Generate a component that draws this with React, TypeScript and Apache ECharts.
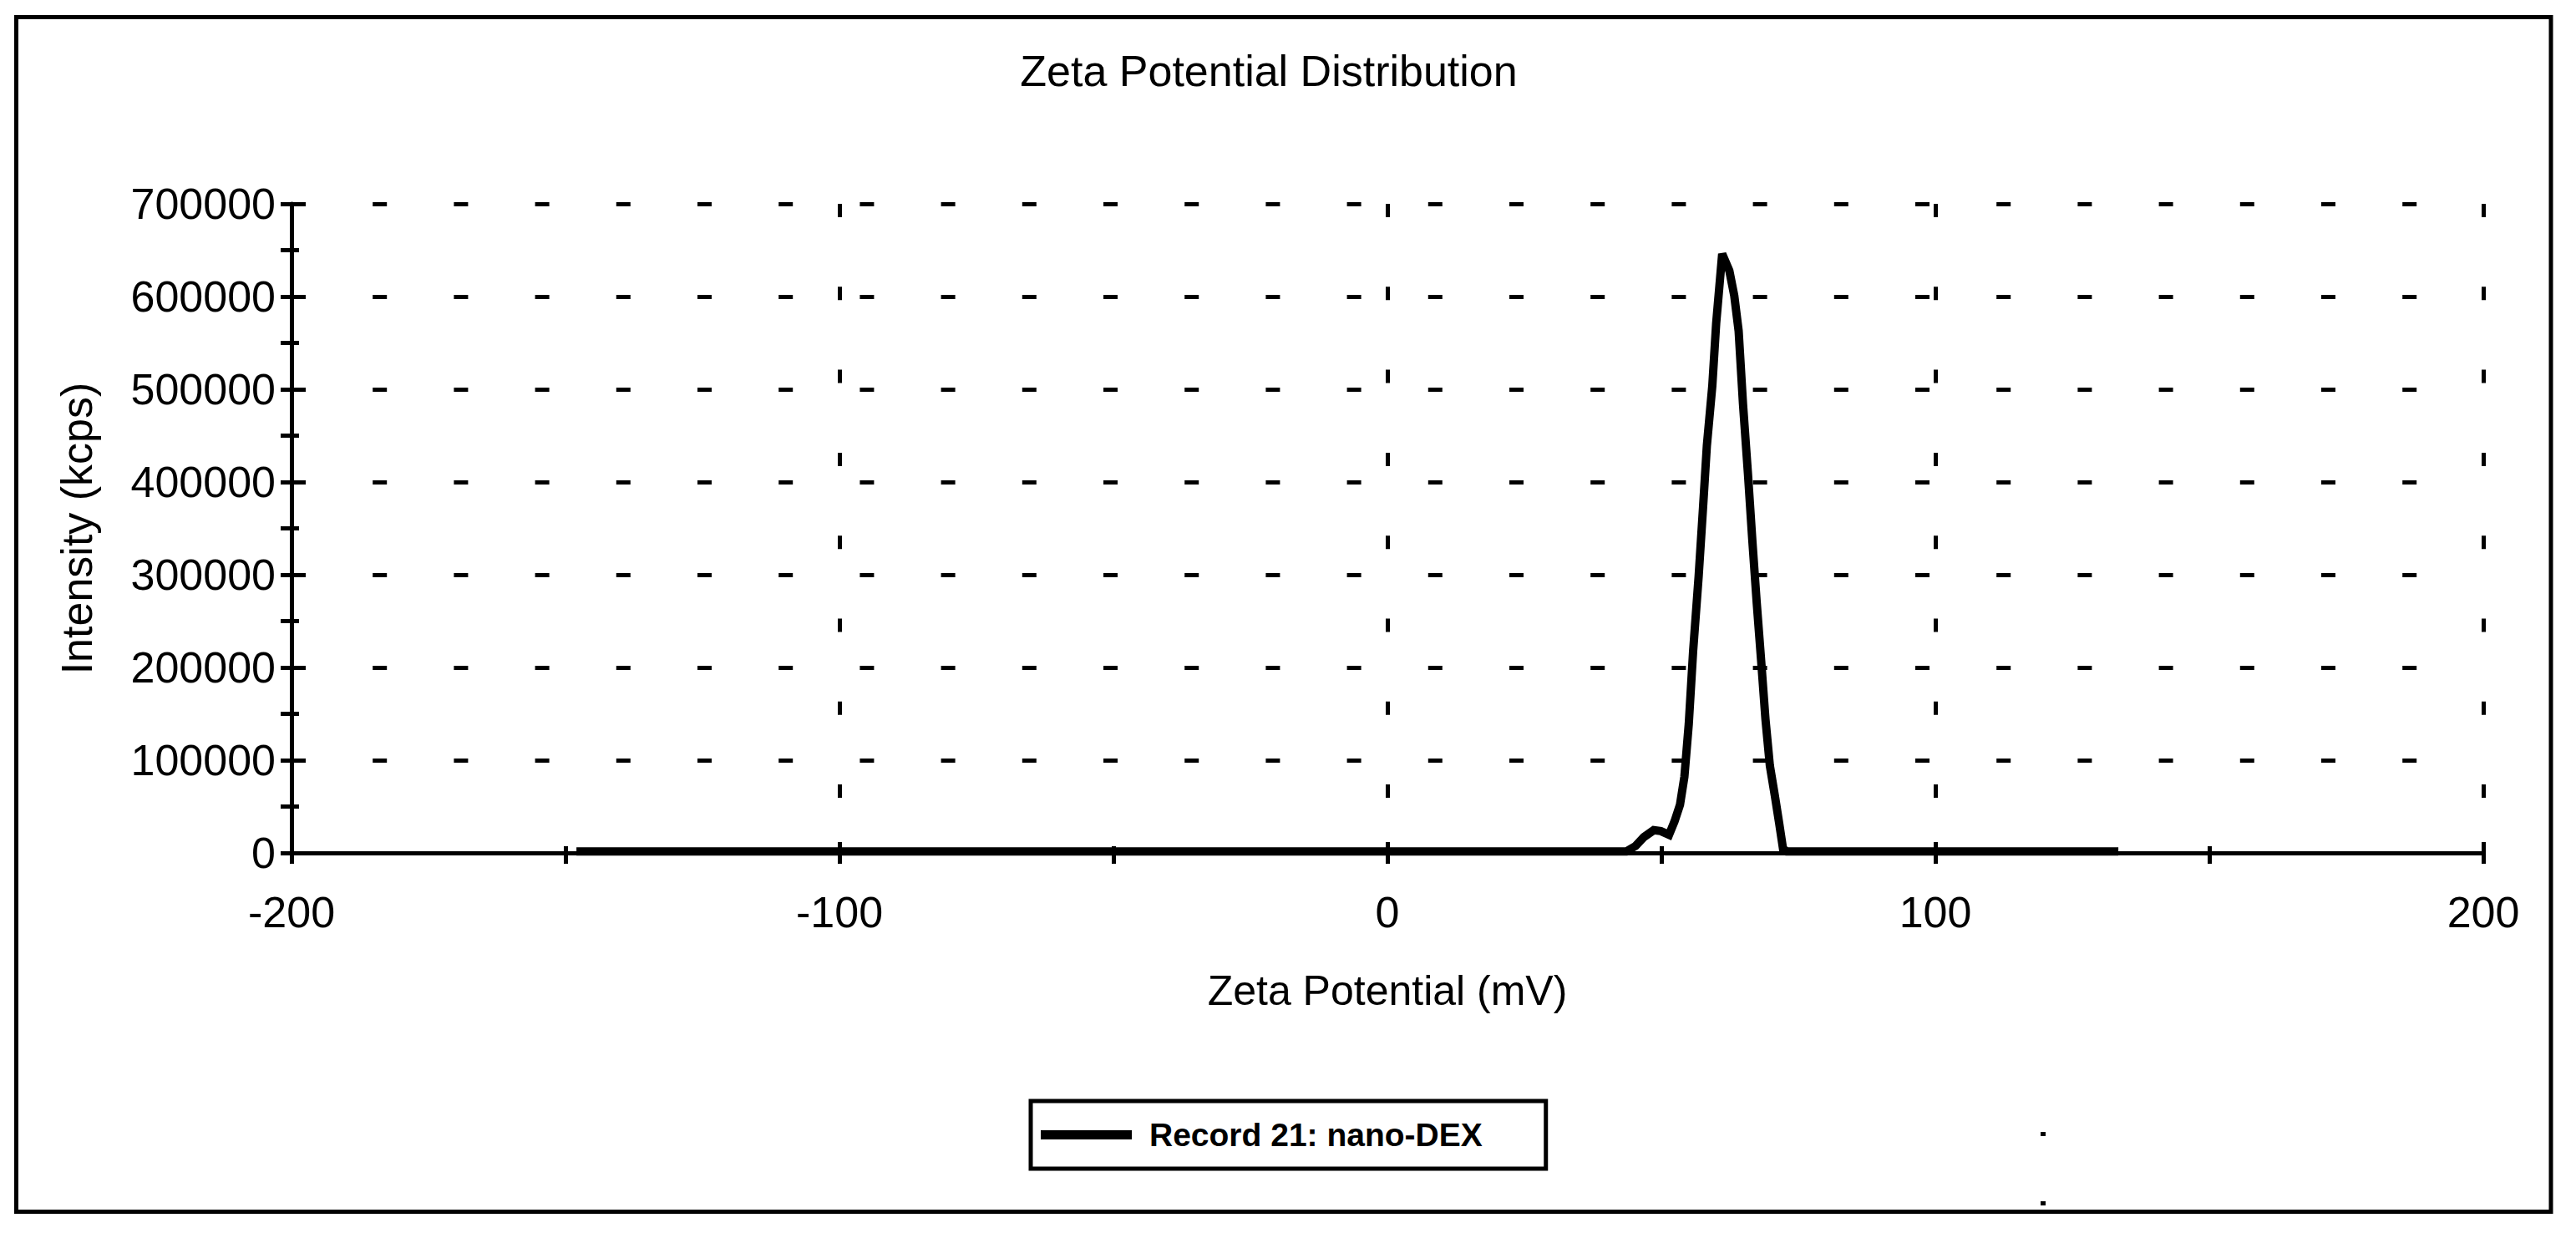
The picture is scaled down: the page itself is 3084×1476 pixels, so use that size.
import React, { useEffect, useRef } from 'react';
import * as echarts from 'echarts';

// Zeta potential distribution
const zetaMv = [
  -148, 43.6, 45.3, 46.8, 48.6, 49.9, 51.4, 52.4, 53.4, 54.2, 55.0, 55.8,
  56.8, 57.6, 58.3, 59.3, 60.0, 61.1, 62.4, 63.3, 64.1, 64.9, 65.8, 66.6,
  67.4, 68.2, 69.0, 69.8, 70.7, 71.5, 72.2, 72.9, 133.4
];
const intensityKcps = [
  1500, 1500, 7500, 17000, 24500, 23500, 19500, 34000, 52000, 82000, 139000, 218000,
  298000, 372000, 439000, 504000, 571000, 646000, 628000, 601000, 563000, 484000, 409000, 337000,
  270000, 208000, 144000, 94000, 62000, 32000, 4600, 1500, 1500
];

const xTickLabels = ['-200', '-100', '0', '100', '200'];
const yTickLabels = ['0', '100000', '200000', '300000', '400000', '500000', '600000', '700000'];

const seriesName = 'Record 21: nano-DEX';
const FONT = "'Liberation Sans', Arial, sans-serif";

const App: React.FC = () => {
  const chartRef = useRef<HTMLDivElement>(null);

  useEffect(() => {
    if (!chartRef.current) return;
    const chart = echarts.init(chartRef.current, undefined, { renderer: 'svg' });

    const tickStyle = { color: '#000', width: 5 };

    const option = {
      animation: false,
      backgroundColor: '#fff',
      title: {
        text: 'Zeta Potential Distribution',
        left: 1519,
        top: 59,
        textAlign: 'center',
        padding: 0,
        textStyle: { fontFamily: FONT, fontSize: 52, fontWeight: 'normal', color: '#000' }
      },
      legend: {
        data: [seriesName],
        left: 1234,
        top: 1318,
        orient: 'horizontal',
        icon: 'rect',
        itemWidth: 109,
        itemHeight: 11,
        padding: [21, 76, 21, 12],
        borderColor: '#000',
        borderWidth: 5,
        backgroundColor: '#fff',
        selectedMode: false,
        textStyle: {
          fontFamily: FONT,
          fontSize: 39,
          fontWeight: 'bold',
          color: '#000',
          padding: [0, 0, 0, 16]
        }
      },
      grid: { left: 349, right: 111, top: 244, bottom: 455, containLabel: false },
      xAxis: [
        {
          type: 'value',
          min: -200,
          max: 200,
          interval: 100,
          name: 'Zeta Potential (mV)',
          nameLocation: 'middle',
          nameGap: 140,
          nameTextStyle: { fontFamily: FONT, fontSize: 50, color: '#000' },
          axisLine: { show: true, onZero: false, lineStyle: { color: '#000', width: 5 } },
          axisTick: { show: true, length: 13, lineStyle: tickStyle },
          minorTick: { show: true, splitNumber: 2, length: 13, lineStyle: tickStyle },
          axisLabel: {
            margin: 45,
            fontFamily: FONT,
            fontSize: 52,
            color: '#000',
            formatter: (v: number) => xTickLabels[Math.round((v + 200) / 100)]
          },
          splitLine: {
            show: true,
            lineStyle: { color: '#000', width: 5, type: [16, 83.3] }
          }
        },
        {
          type: 'value',
          position: 'bottom',
          min: -200,
          max: 200,
          interval: 100,
          axisLine: { show: false, onZero: false },
          axisTick: { show: true, inside: true, length: 13, lineStyle: tickStyle },
          minorTick: { show: true, splitNumber: 2, length: 8, lineStyle: tickStyle },
          axisLabel: { show: false },
          splitLine: { show: false }
        }
      ],
      yAxis: [
        {
          type: 'value',
          min: 0,
          max: 700000,
          interval: 100000,
          name: 'Intensity (kcps)',
          nameLocation: 'middle',
          nameGap: 231,
          nameTextStyle: { fontFamily: FONT, fontSize: 52, color: '#000' },
          axisLine: { show: true, onZero: false, lineStyle: { color: '#000', width: 5 } },
          axisTick: { show: true, length: 13, lineStyle: tickStyle },
          minorTick: { show: true, splitNumber: 2, length: 13, lineStyle: tickStyle },
          axisLabel: {
            margin: 19,
            fontFamily: FONT,
            fontSize: 52,
            color: '#000',
            formatter: (v: number) => yTickLabels[Math.round(v / 100000)]
          },
          splitLine: {
            show: true,
            lineStyle: { color: '#000', width: 5, type: [17, 80.2] }
          }
        },
        {
          type: 'value',
          position: 'left',
          min: 0,
          max: 700000,
          interval: 100000,
          axisLine: { show: false, onZero: false },
          axisTick: { show: true, inside: true, length: 14, lineStyle: tickStyle },
          minorTick: { show: true, splitNumber: 2, length: 9, lineStyle: tickStyle },
          axisLabel: { show: false },
          splitLine: { show: false }
        }
      ],
      series: [
        {
          name: seriesName,
          type: 'line',
          xAxisIndex: 0,
          yAxisIndex: 0,
          data: zetaMv.map((x, i) => [x, intensityKcps[i]]),
          showSymbol: false,
          symbol: 'none',
          lineStyle: { color: '#000', width: 10, join: 'miter' },
          itemStyle: { color: '#000' },
          z: 5
        }
      ],
      graphic: [
        {
          type: 'rect',
          shape: { x: 19.5, y: 20.5, width: 3034.5, height: 1430 },
          style: { fill: 'none', stroke: '#000', lineWidth: 5 },
          silent: true
        },
        {
          type: 'rect',
          shape: { x: 2443, y: 1355, width: 6, height: 5 },
          style: { fill: '#000' },
          silent: true
        },
        {
          type: 'rect',
          shape: { x: 2443, y: 1438, width: 6, height: 5 },
          style: { fill: '#000' },
          silent: true
        }
      ]
    };

    chart.setOption(option);

    const handleResize = () => chart.resize();
    window.addEventListener('resize', handleResize);

    return () => {
      window.removeEventListener('resize', handleResize);
      chart.dispose();
    };
  }, []);

  return (
    <div
      ref={chartRef}
      style={{ position: 'fixed', left: 0, top: 0, width: '100vw', height: '100vh' }}
    />
  );
};

export default App;
